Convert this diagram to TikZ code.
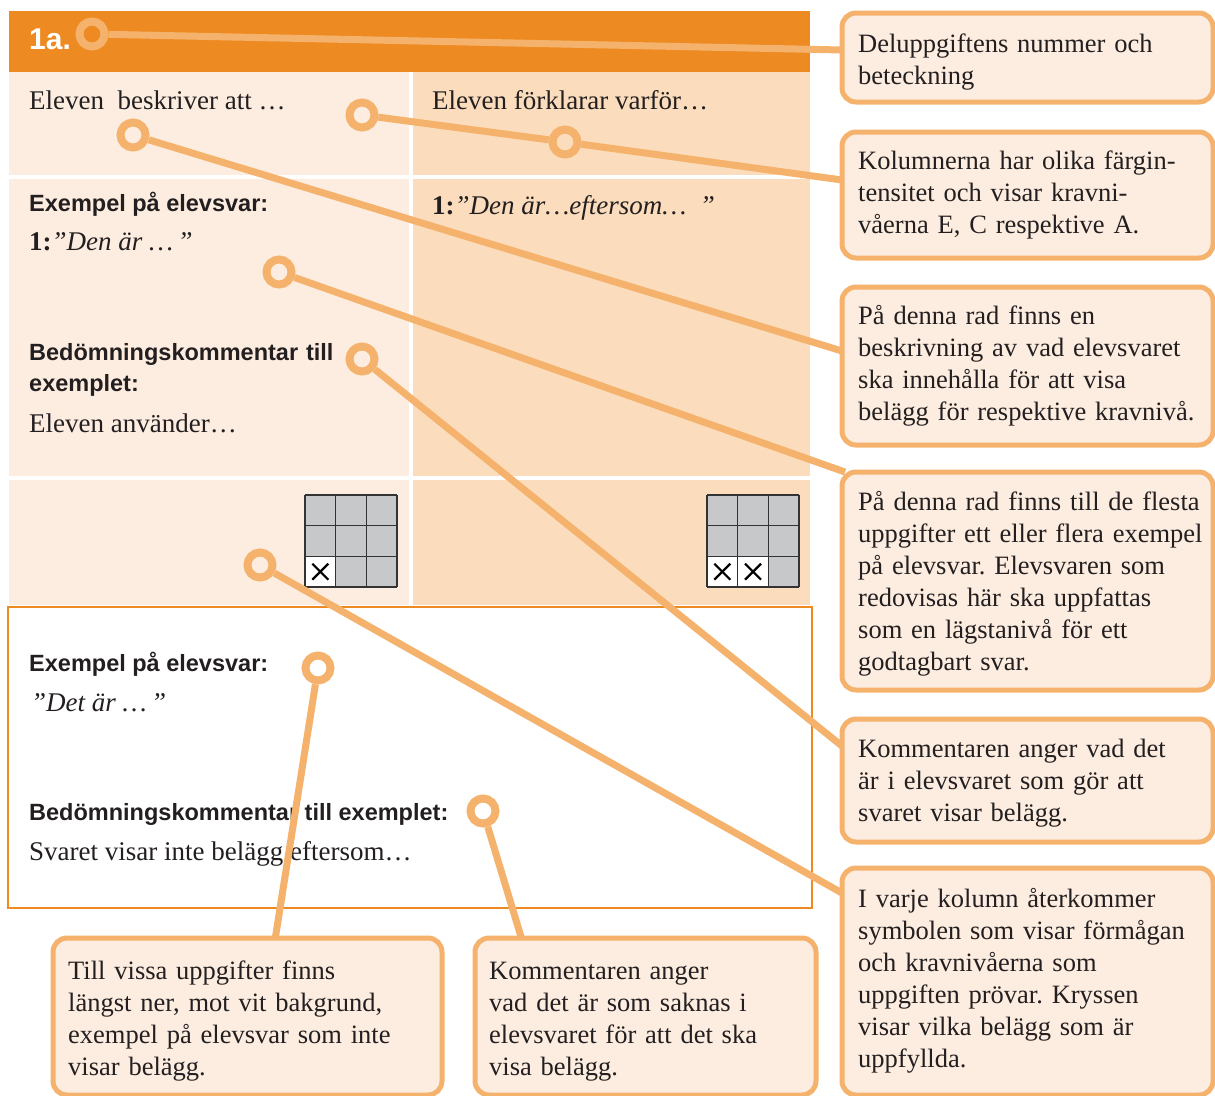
\documentclass[tikz,border=0pt]{standalone}
\usepackage{fontspec}
\setmainfont{Liberation Serif}
\setsansfont{Liberation Sans}
\frenchspacing
\definecolor{hdr}{HTML}{EE8A22}
\definecolor{colA}{HTML}{FDEDE0}
\definecolor{colB}{HTML}{FBDCBC}
\definecolor{conn}{HTML}{F5B26C}
\definecolor{ink}{HTML}{231F20}
\definecolor{cellgray}{HTML}{C7C8CA}
\definecolor{gridline}{HTML}{333333}
\tikzset{
  callout/.style={draw=conn, line width=5pt, fill=colA, rounded corners=14pt, rectangle, inner sep=0, anchor=north west},
  ctext/.style={anchor=base west, inner sep=0, text width=400pt, align=left, font=\fontsize{26.5}{32}\selectfont\frenchspacing, text=ink},
  serif/.style={anchor=base west, inner sep=0, font=\fontsize{27}{32}\selectfont, text=ink},
  sanslab/.style={anchor=base west, inner sep=0, font=\sffamily\bfseries\fontsize{23.5}{31}\selectfont, text=ink},
  ring/.style={circle, draw=conn, line width=8pt, minimum size=25pt, inner sep=0},
  connector/.style={draw=conn, line width=7pt},
  gridln/.style={draw=gridline, line width=1.6pt},
  crossln/.style={draw=black, line width=2.2pt},
}
\begin{document}
\begin{tikzpicture}[x=1pt,y=-1pt]
\useasboundingbox (0,0) rectangle (1215,1095);
\clip (0,0) rectangle (1215,1095);
% table backgrounds
\fill[hdr] (9,11) rectangle (810,71.5);
\fill[colA] (9,71.5) rectangle (408.5,175);
\fill[colB] (412.5,71.5) rectangle (810,175);
\fill[colA] (9,178.5) rectangle (408.5,476);
\fill[colB] (412.5,178.5) rectangle (810,476);
\fill[colA] (9,480) rectangle (408.5,605);
\fill[colB] (412.5,480) rectangle (810,605);
% bottom white box
\draw[hdr, line width=2pt, fill=white] (8,607) rectangle (812,908);
% grids
\foreach \gx/\nw in {305/1, 707/2} {
  \fill[cellgray] (\gx,495) rectangle ++(92,92);
  \fill[white] (\gx,556.33) rectangle ++(30.67*\nw,30.67);
  \foreach \i in {0,1,2,3} {
    \draw[gridln] (\gx+30.67*\i,495) -- ++(0,92);
    \draw[gridln] (\gx,495+30.67*\i) -- ++(92,0);
  }
  \foreach \j in {1,...,\nw} {
    \draw[crossln] (\gx+30.67*\j-15.33-8,571.67-8) -- ++(16,16);
    \draw[crossln] (\gx+30.67*\j-15.33-8,571.67+8) -- ++(16,-16);
  }
}
% table texts
\node[anchor=base west, inner sep=0, font=\sffamily\bfseries\fontsize{30}{30}\selectfont, text=white] (num) at (29,49) {1a.};
\node[serif] (t11) at (29,109) {Eleven\ \ beskriver att …};
\node[serif] (t12) at (432,109) {Eleven förklarar varför…};
\node[sanslab] (ex1) at (29,211) {Exempel på elevsvar:};
\node[serif] (ans1) at (29,250) {\textbf{1:}\textit{”Den är …\,”}};
\node[sanslab, text width=340pt, align=left] (bed1) at (29,360) {Bedömningskommentar till\\exemplet:};
\node[serif] (com1) at (29,432) {Eleven använder…};
\node[serif] (ans2) at (432,214) {\textbf{1:}\textit{”Den är…eftersom…\ \ ”}};
\node[sanslab] (ex2) at (29,671) {Exempel på elevsvar:};
\node[serif] (ans3) at (31,711) {\textit{”Det är …\,”}};
\node[sanslab] (bed2) at (29,820) {Bedömningskommentar till exemplet:};
\node[serif] (com2) at (29,860) {Svaret visar inte belägg eftersom…};
% rings
\node[ring] (r1) at (92,34) {};
\node[ring] (r2a) at (362,115) {};
\node[ring] (r2b) at (565,142) {};
\node[ring] (r3) at (133,135) {};
\node[ring] (r4) at (279,272) {};
\node[ring] (r5) at (362,359) {};
\node[ring] (r6) at (260,565) {};
\node[ring] (r7) at (318,668) {};
\node[ring] (r8) at (483,811) {};
% connector ends
\coordinate (e1) at (842,50);
\coordinate (e2) at (842,180);
\coordinate (e3) at (842,351);
\coordinate (e4) at (845,472);
\coordinate (e5) at (842,746);
\coordinate (e6) at (842,893);
\coordinate (e7) at (275,940);
\coordinate (e8) at (522,940);
% connectors
\draw[connector] (r1) -- (e1);
\draw[connector] (r2a) -- (r2b) -- (e2);
\draw[connector] (r3) -- (e3);
\draw[connector] (r4) -- (e4);
\draw[connector] (r5) -- (e5);
\draw[connector] (r6) -- (e6);
\draw[connector] (r7) -- (e7);
\draw[connector] (r8) -- (e8);
% callout boxes
\node[callout, minimum width=371pt, minimum height=89pt] (box1) at (839.5,10.5) {};
\node[callout, minimum width=371pt, minimum height=126pt] (box2) at (839.5,129.5) {};
\node[callout, minimum width=371pt, minimum height=158pt] (box3) at (839.5,284.5) {};
\node[callout, minimum width=371pt, minimum height=218pt] (box4) at (839.5,469.5) {};
\node[callout, minimum width=371pt, minimum height=123pt] (box5) at (839.5,716.5) {};
\node[callout, minimum width=371pt, minimum height=227pt] (box6) at (839.5,865.5) {};
\node[callout, minimum width=389pt, minimum height=157pt] (box7) at (50.5,935.5) {};
\node[callout, minimum width=341pt, minimum height=157pt] (box8) at (472.5,935.5) {};
% callout texts
\node[ctext] (c1) at (858,52) {Deluppgiftens nummer och\\beteckning};
\node[ctext] (c2) at (858,169) {Kolumnerna har olika färgin-\\tensitet och visar kravni-\\våerna E, C respektive A.};
\node[ctext] (c3) at (858,324) {På denna rad finns en\\beskrivning av vad elevsvaret\\ska innehålla för att visa\\belägg för respektive kravnivå.};
\node[ctext] (c4) at (858,510) {På denna rad finns till de flesta\\uppgifter ett eller flera exempel\\på elevsvar. Elevsvaren som\\redovisas här ska uppfattas\\som en lägstanivå för ett\\godtagbart svar.};
\node[ctext] (c5) at (858,757) {Kommentaren anger vad det\\är i elevsvaret som gör att\\svaret visar belägg.};
\node[ctext] (c6) at (858,907) {I varje kolumn återkommer\\symbolen som visar förmågan\\och kravnivåerna som\\uppgiften prövar. Kryssen\\visar vilka belägg som är\\uppfyllda.};
\node[ctext] (c7) at (68,979) {Till vissa uppgifter finns\\längst ner, mot vit bakgrund,\\exempel på elevsvar som inte\\visar belägg.};
\node[ctext] (c8) at (489,979) {Kommentaren anger\\vad det är som saknas i\\elevsvaret för att det ska\\visa belägg.};
\end{tikzpicture}
\end{document}
